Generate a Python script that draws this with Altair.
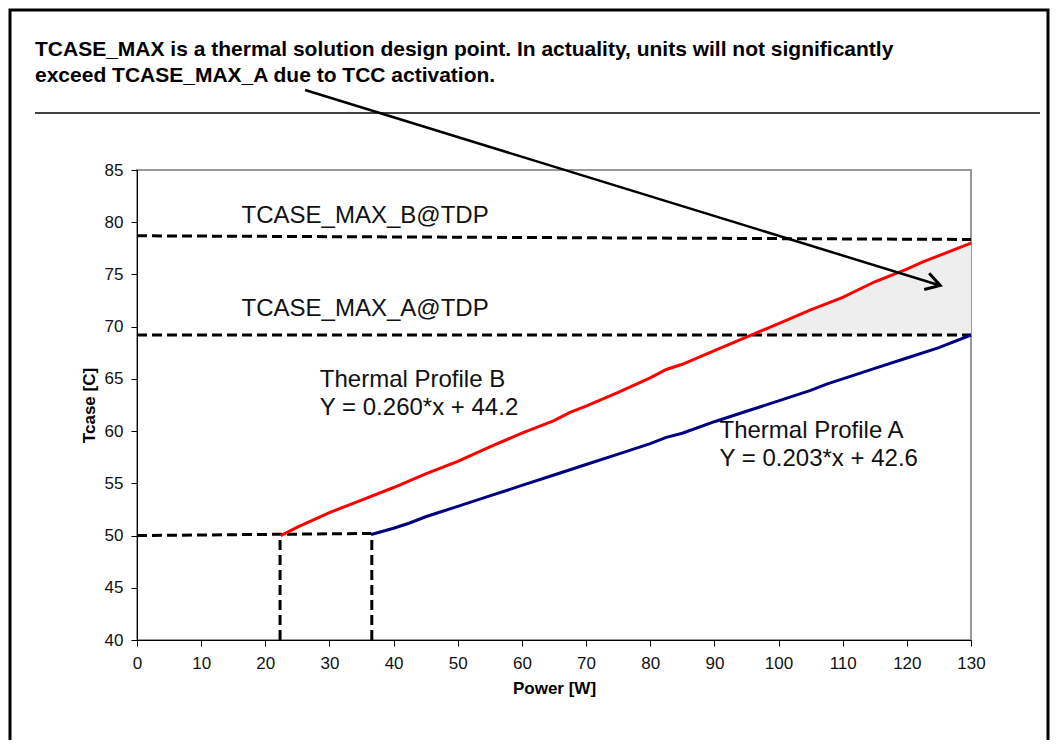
import altair as alt
import pandas as pd

# ---- data ----
red_x = [22.4, 25, 27.5, 30, 35, 40, 45, 50, 55, 60, 65, 67.5, 70, 75, 80, 82.5, 85, 90, 95, 100, 105, 110, 115, 120, 122.5, 125, 130]
red_y = [50.0, 50.8, 51.5, 52.2, 53.4, 54.6, 55.9, 57.1, 58.5, 59.8, 61.0, 61.8, 62.4, 63.7, 65.1, 65.9, 66.4, 67.7, 69.0, 70.3, 71.6, 72.8, 74.3, 75.5, 76.2, 76.8, 78.0]

blue_x = [36.5, 40, 42.5, 45, 47.5, 50, 55, 60, 65, 70, 75, 80, 82.5, 85, 90, 95, 100, 105, 107.5, 110, 115, 120, 125, 130]
blue_y = [50.1, 50.7, 51.2, 51.8, 52.3, 52.8, 53.8, 54.8, 55.8, 56.8, 57.8, 58.8, 59.4, 59.8, 60.9, 61.9, 62.9, 63.9, 64.5, 65.0, 66.0, 67.0, 68.0, 69.2]

tcase_a = 69.2
# dashed reference segments: (segment id, x, y)
dash_seg = ["B", "B", "A", "A", "P50", "P50", "VB", "VB", "VA", "VA"]
dash_x = [0, 130, 0, 130, 0, 36.5, 22.3, 22.3, 36.6, 36.6]
dash_y = [78.7, 78.35, 69.2, 69.2, 50.0, 50.2, 40, 50.0, 40, 50.2]

label_text = ["TCASE_MAX_B@TDP", "TCASE_MAX_A@TDP", "Thermal Profile B", "Y = 0.260*x + 44.2",
              "Thermal Profile A", "Y = 0.203*x + 42.6"]
label_x = [16.3, 16.3, 28.5, 28.5, 90.8, 90.8]
label_y = [79.93, 71.02, 64.22, 61.54, 59.34, 56.66]

arrow_x = [26.2, 125.2]
arrow_y = [92.66, 73.94]

title_lines = ["TCASE_MAX is a thermal solution design point. In actuality, units will not significantly",
               "exceed TCASE_MAX_A due to TCC activation."]

x_ticks = list(range(0, 131, 10))
y_ticks = list(range(40, 86, 5))

# ---- tables ----
red = pd.DataFrame({"x": red_x, "y": red_y})
blue = pd.DataFrame({"x": blue_x, "y": blue_y})
shade = red[red["x"] >= 95].assign(y2=tcase_a)
dash = pd.DataFrame({"seg": dash_seg, "x": dash_x, "y": dash_y})
labels = pd.DataFrame({"t": label_text, "x": label_x, "y": label_y})
arrow = pd.DataFrame({"x": [arrow_x[0]], "y": [arrow_y[0]], "x2": [arrow_x[1]], "y2": [arrow_y[1]]})
head = pd.DataFrame({"x": [arrow_x[1]], "y": [arrow_y[1]]})
one = pd.DataFrame({"a": [0]})

FONT = "Liberation Sans"
xs = alt.Scale(domain=[0, 130], nice=False, zero=False)
ys = alt.Scale(domain=[40, 85], nice=False, zero=False)

xax = alt.Axis(values=x_ticks, title="Power [W]", grid=False, labelFontSize=17, labelFont=FONT,
               labelColor="#111", tickSize=6, tickColor="black", domainColor="black",
               labelPadding=9, titleFontSize=17, titleFont=FONT, titleFontWeight="bold",
               titleColor="black", titlePadding=9, labelFlush=False)
yax = alt.Axis(values=y_ticks, title="Tcase [C]", grid=False, labelFontSize=17, labelFont=FONT,
               labelColor="#111", tickSize=6, tickColor="black", domainColor="black",
               labelPadding=8, titleFontSize=17, titleFont=FONT, titleFontWeight="bold",
               titleColor="black", titlePadding=6, labelFlush=False)

X = lambda f="x": alt.X(f"{f}:Q", scale=xs, axis=xax)
Y = lambda f="y": alt.Y(f"{f}:Q", scale=ys, axis=yax)

area = alt.Chart(shade).mark_area(color="#eeeeee", opacity=1).encode(
    x=X(), y=Y(), y2="y2:Q")

dashed = alt.Chart(dash).mark_line(color="black", strokeWidth=3, strokeDash=[10, 5]).encode(
    x=X(), y=Y(), detail="seg:N")

red_line = alt.Chart(red).mark_line(color="#ff0000", strokeWidth=3).encode(x=X(), y=Y())
blue_line = alt.Chart(blue).mark_line(color="#000080", strokeWidth=3).encode(x=X(), y=Y())

texts = alt.Chart(labels).mark_text(align="left", baseline="alphabetic", font=FONT, fontSize=24,
                                    color="#111").encode(x=X(), y=Y(), text="t:N")

arrow_line = alt.Chart(arrow).mark_rule(color="black", strokeWidth=2.5).encode(
    x=X(), y=Y(), x2="x2:Q", y2="y2:Q")
arrow_head = alt.Chart(head).mark_point(shape="M-1,-0.6L0,0L-1,0.6", size=800, filled=False,
                                        color="black", strokeWidth=3, angle=17, opacity=1).encode(
    x=X(), y=Y())

title1 = alt.Chart(one).mark_text(text=title_lines[0], align="left", baseline="alphabetic",
                                  font=FONT, fontSize=21, fontWeight="bold", color="black").encode(
    x=alt.value(-102), y=alt.value(-114))
title2 = alt.Chart(one).mark_text(text=title_lines[1], align="left", baseline="alphabetic",
                                  font=FONT, fontSize=21, fontWeight="bold", color="black").encode(
    x=alt.value(-102), y=alt.value(-88))
sep = alt.Chart(one).mark_rule(color="black", strokeWidth=1.5).encode(
    x=alt.value(-102), x2=alt.value(903), y=alt.value(-57))
frame = alt.Chart(one).mark_rect(fill="transparent", stroke="black", strokeWidth=3).encode(
    x=alt.value(-127), x2=alt.value(911), y=alt.value(-160), y2=alt.value(700))

chart = alt.layer(area, dashed, red_line, blue_line, texts, arrow_line, arrow_head,
                  title1, title2, sep, frame).properties(
    width=834, height=470,
    autosize=alt.AutoSizeParams(type="none"),
    padding={"left": 129, "top": 162, "right": 80, "bottom": 100},
    background="white",
).configure_view(stroke="#999999", strokeWidth=2)

chart.save("out.html", embed_options={"renderer": "svg", "actions": False})
